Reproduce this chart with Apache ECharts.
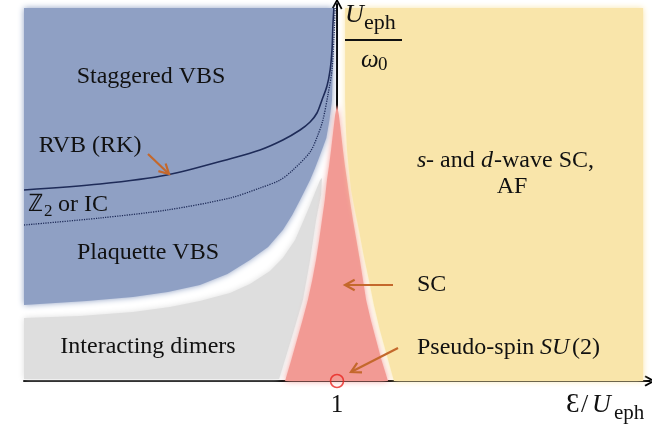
<!DOCTYPE html>
<html><head><meta charset="utf-8">
<script src="https://cdn.jsdelivr.net/npm/echarts@6/dist/echarts.min.js"></script>
<style>html,body{margin:0;padding:0;background:#fff}#c{width:652px;height:425px}</style>
</head><body><div id="c"></div>
<script>
// x: Ɛ/U_eph (1 at the vertical axis); y: U_eph/ω0 in arbitrary units (0..377)
const xTickValues = [1];
const staggeredVBS = [[0,373],[0.5,373],[0.987,373],[0.987,321],[0.984,281],[0.976,261],[0.966,243],[0.946,226],[0.930,213],[0.914,201],[0.882,181],[0.857,166],[0.827,151],[0.780,134],[0.722,121],[0.650,107],[0.562,96],[0.460,89],[0.348,84],[0.200,80],[0,76]];
const interactingDimers = [[0,63],[0.179,65],[0.348,69],[0.466,74],[0.562,80],[0.658,88],[0.722,97],[0.786,110],[0.827,123],[0.866,141],[0.891,159],[0.914,176],[0.933,191],[0.946,201],[0.952,203],[0.949,186],[0.933,161],[0.914,121],[0.891,81],[0.853,41],[0.815,2],[0,2]];
const scRegion = [[0.834,0],[0.853,20],[0.872,41],[0.890,61],[0.907,81],[0.921,101],[0.933,121],[0.943,141],[0.952,161],[0.961,181],[0.968,201],[0.975,216],[0.981,231],[0.988,250],[0.994,266],[1,276],[1.006,266],[1.012,250],[1.019,231],[1.025,216],[1.032,201],[1.041,181],[1.051,161],[1.062,141],[1.073,121],[1.083,101],[1.093,81],[1.108,61],[1.125,41],[1.143,20],[1.163,0]];
const sdWaveSC = [[1.026,373],[1.5,373],[1.978,373],[1.978,0],[1.182,0],[1.160,25],[1.137,51],[1.118,76],[1.102,101],[1.085,126],[1.070,151],[1.057,171],[1.045,191],[1.038,211],[1.032,231],[1.028,256],[1.026,281]];
const rvbLine = [[0,191],[0.243,197],[0.457,206],[0.668,223],[0.754,231],[0.827,241],[0.882,251],[0.914,259],[0.936,268],[0.952,281],[0.968,295],[0.978,311],[0.984,331],[0.987,356],[0.990,373]];
const z2Line = [[0,156],[0.243,163],[0.457,171],[0.658,183],[0.754,193],[0.818,201],[0.859,211],[0.914,229],[0.939,246],[0.955,261],[0.971,286],[0.984,311],[0.990,341],[0.994,373]];
const su2Point = [[1,0]];

const SERIF = 'Liberation Serif';
const ORANGE = '#C4682C';
const CHEVRON = 'path://M5,0 L10,9 L8.6,10 L5,3.2 L1.4,10 L0,9 Z';

function region(name, pts, color){
  return {type:'custom', name, silent:true, clip:false, z:1,
    data:[pts[0]],
    renderItem:(params, api)=>({type:'polygon',
      shape:{points: pts.map(p=>api.coord(p))},
      style:{fill:color, shadowBlur:6, shadowColor:color}})
  };
}
function txt(text, x, y, size, opts){
  opts = opts || {};
  return {type:'text', x, y, z:100, silent:true,
    style:{text, fill:'#111', fontFamily:SERIF, fontSize:size,
      fontStyle: opts.italic ? 'italic' : 'normal',
      align: opts.align || 'center', verticalAlign:'middle'}};
}
function arrow(x1,y1,x2,y2){
  const a=Math.atan2(y2-y1,x2-x1), L=11, w=0.5;
  return [
    {type:'line', z:100, silent:true, shape:{x1,y1,x2,y2}, style:{stroke:ORANGE,lineWidth:2.2}},
    {type:'polyline', z:100, silent:true, shape:{points:[[x2-L*Math.cos(a-w), y2-L*Math.sin(a-w)],[x2,y2],[x2-L*Math.cos(a+w), y2-L*Math.sin(a+w)]]},
      style:{stroke:ORANGE,lineWidth:2.2,fill:null}}
  ];
}

const chart = echarts.init(document.getElementById('c'), null, {renderer:'canvas'});
chart.setOption({
  animation:false,
  backgroundColor:'#fff',
  grid:{left:24, right:2, top:4, bottom:44, containLabel:false},
  xAxis:[{type:'value', min:0, max:2, position:'bottom',
      axisLine:{show:true, onZero:true, symbol:['none',CHEVRON], symbolSize:[11,13], lineStyle:{color:'#000', width:2}},
      axisTick:{show:true, inside:true, length:6, customValues:xTickValues, lineStyle:{color:'#000', width:1.5}},
      axisLabel:{show:true, customValues:xTickValues, color:'#111', fontFamily:SERIF, fontSize:25, margin:12},
      splitLine:{show:false}},
    {type:'value', min:-1, max:1, show:false, position:'top'}],
  yAxis:{type:'value', min:0, max:377,
    axisLine:{show:true, onZero:true, onZeroAxisIndex:1, symbol:['none',CHEVRON], symbolSize:[11,13], lineStyle:{color:'#000', width:2}},
    axisTick:{show:false}, axisLabel:{show:false}, splitLine:{show:false}},
  series:[
    region('Staggered/Plaquette VBS', staggeredVBS, '#8FA0C4'),
    region('Interacting dimers', interactingDimers, '#DEDEDE'),
    region('SC', scRegion, '#F29A94'),
    region('s- and d-wave SC, AF', sdWaveSC, '#F9E5AA'),
    {type:'line', name:'RVB (RK)', data:rvbLine, smooth:0.3, showSymbol:false, silent:true, z:5,
      lineStyle:{color:'#1E2B58', width:1.6}},
    {type:'line', name:'Z2 or IC', data:z2Line, smooth:0.3, showSymbol:false, silent:true, z:5,
      lineStyle:{color:'#1E2B58', width:1.3, type:[1.2,1.2]}},
    {type:'scatter', name:'Pseudo-spin SU(2)', data:su2Point, symbol:'circle', symbolSize:13, silent:true, z:20,
      itemStyle:{color:'rgba(0,0,0,0)', borderColor:'#E8231E', borderWidth:1.6}}
  ],
  graphic:[
    txt('Staggered VBS', 151, 77, 24),
    txt('RVB (RK)', 90, 146, 24),
    txt('ℤ', 28, 205, 24, {align:'left'}),
    txt('2', 44, 212, 17, {align:'left'}),
    txt('or IC', 58, 205, 24, {align:'left'}),
    txt('Plaquette VBS', 148, 253, 24),
    txt('Interacting dimers', 148, 347, 24),
    txt('s', 417, 161, 24, {align:'left', italic:true}),
    txt('- and', 426, 161, 24, {align:'left'}),
    txt('d', 481, 161, 24, {align:'left', italic:true}),
    txt('-wave SC,', 494, 161, 24, {align:'left'}),
    txt('AF', 512, 187, 24),
    txt('SC', 417, 285, 24, {align:'left'}),
    txt('Pseudo-spin', 417, 348, 24, {align:'left'}),
    txt('SU', 540, 348, 24, {align:'left', italic:true}),
    txt('(2)', 572, 348, 24, {align:'left'}),
    txt('U', 345, 15, 26, {align:'left', italic:true}),
    txt('eph', 364, 23, 22, {align:'left'}),
    {type:'line', z:100, silent:true, shape:{x1:345, y1:40, x2:402, y2:40}, style:{stroke:'#111', lineWidth:2}},
    txt('ω', 361, 60, 25, {align:'left', italic:true}),
    txt('0', 378, 65, 19, {align:'left'}),
    txt('Ɛ', 566, 405, 27, {align:'left'}),
    txt('/', 581, 405, 26, {align:'left'}),
    txt('U', 592, 405, 26, {align:'left', italic:true}),
    txt('eph', 614, 413, 21, {align:'left'})
  ].concat(arrow(148,154,169,174), arrow(393,285,345,285), arrow(398,348,351,372))
});
</script></body></html>
